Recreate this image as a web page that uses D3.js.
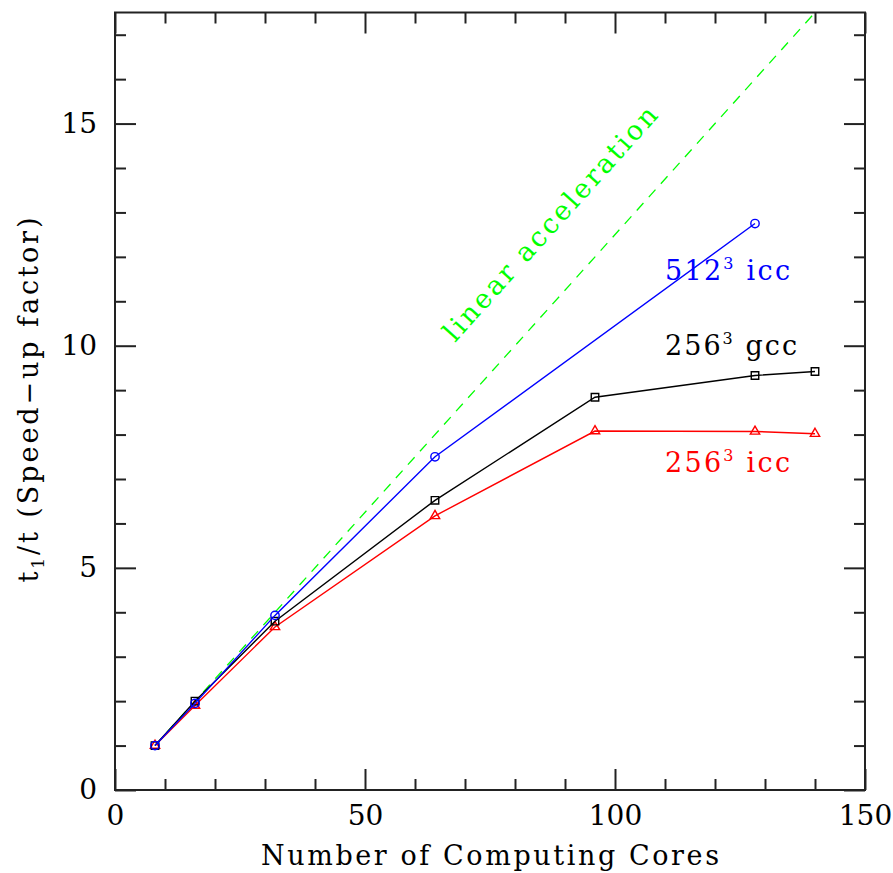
<!DOCTYPE html>
<html>
<head>
<meta charset="utf-8">
<script src="https://cdn.jsdelivr.net/npm/d3@7/dist/d3.min.js"></script>
<style>
  body { margin: 0; background: #fff; }
  text { font-family: "DejaVu Serif", "Liberation Serif", "Noto Serif", serif; }
</style>
</head>
<body>
<svg id="chart" width="893" height="873"></svg>
<script>
// --- data ---
const cores512 = [8, 16, 32, 64, 128];
const speed512icc = [1.0, 1.95, 3.93, 7.5, 12.75];
const cores256 = [8, 16, 32, 64, 96, 128, 140];
const speed256gcc = [1.0, 2.0, 3.8, 6.52, 8.84, 9.33, 9.42];
const speed256icc = [1.0, 1.9, 3.67, 6.17, 8.08, 8.07, 8.02];
const linearCores = [8, 140];
const linearSpeed = [1, 17.5];
const xMajor = [0, 50, 100, 150];
const yMajor = [0, 5, 10, 15];

const svg = d3.select('#chart');
const L = 115, R = 865, T = 12.5, B = 790;
const x = d3.scaleLinear().domain([0, 150]).range([L, R]);
const y = d3.scaleLinear().domain([0, 17.5]).range([B, T]);

const xMinor = d3.range(0, 151, 10).filter(v => !xMajor.includes(v));
const yMinor = d3.range(0, 17.6, 1).filter(v => !yMajor.includes(v));

// axes: ticks point inward on all four sides
function axis(gen, tx, ty, vals, size, labels, pad) {
  const a = gen.tickValues(vals).tickSize(-size).tickPadding(pad || 0);
  if (!labels) a.tickFormat('');
  const g = svg.append('g').attr('transform', `translate(${tx},${ty})`).call(a);
  g.attr('font-family', null);
  g.select('.domain').remove();
  g.selectAll('line').attr('stroke', '#222').attr('stroke-width', 2);
  g.selectAll('text').attr('font-size', 28).attr('fill', '#000');
  return g;
}
axis(d3.axisBottom(x), 0, B, xMajor, 21, true, 15);
axis(d3.axisBottom(x), 0, B, xMinor, 11, false);
axis(d3.axisTop(x), 0, T, xMajor, 21, false);
axis(d3.axisTop(x), 0, T, xMinor, 11, false);
axis(d3.axisLeft(y), L, 0, yMajor, 21, true, 18);
axis(d3.axisLeft(y), L, 0, yMinor, 11, false);
axis(d3.axisRight(y), R, 0, yMajor, 21, false);
axis(d3.axisRight(y), R, 0, yMinor, 11, false);

svg.append('rect').attr('x', L).attr('y', T).attr('width', R - L).attr('height', B - T)
  .attr('fill', 'none').attr('stroke', '#222').attr('stroke-width', 2);

// linear acceleration reference
const line = d3.line().x(d => x(d[0])).y(d => y(d[1]));
svg.append('path').datum(d3.zip(linearCores, linearSpeed)).attr('d', line)
  .attr('fill', 'none').attr('stroke', '#00ff00').attr('stroke-width', 1.3)
  .attr('stroke-dasharray', '10,8');

function series(xs, ys, color, marker) {
  const pts = d3.zip(xs, ys);
  svg.append('path').datum(pts).attr('d', line)
    .attr('fill', 'none').attr('stroke', color).attr('stroke-width', 1.4);
  const sym = d3.symbol().type(marker.type).size(marker.size);
  svg.append('g').selectAll('path').data(pts).enter().append('path')
    .attr('transform', d => `translate(${x(d[0])},${y(d[1])})`)
    .attr('d', sym).attr('fill', 'none').attr('stroke', color).attr('stroke-width', 1.4);
}
series(cores256, speed256icc, '#ff0000', { type: d3.symbolTriangle, size: 38 });
series(cores256, speed256gcc, '#000000', { type: d3.symbolSquare, size: 56 });
series(cores512, speed512icc, '#0000ff', { type: d3.symbolCircle, size: 55 });

// series labels
function label(txt, cx, cy, color, len) {
  const t = svg.append('text').attr('x', x(cx)).attr('y', y(cy)).attr('fill', color)
    .attr('font-size', 27).attr('textLength', len).attr('lengthAdjust', 'spacing');
  t.append('tspan').text(txt[0]);
  t.append('tspan').attr('font-size', 16).attr('dy', -11).text('3');
  t.append('tspan').attr('dy', 11).text(txt[1]);
}
label(['512', ' icc'], 110, 11.48, '#0000ff', 125);
label(['256', ' gcc'], 110, 9.79, '#000000', 132);
label(['256', ' icc'], 110, 7.16, '#ff0000', 125);

svg.append('text')
  .attr('transform', `translate(${x(68)},${y(10.06)}) rotate(-48)`)
  .attr('fill', '#00ff00').attr('font-size', 27)
  .attr('textLength', 305).attr('lengthAdjust', 'spacing')
  .text('linear acceleration');

// axis titles
svg.append('text').attr('x', x(75)).attr('y', 865).attr('text-anchor', 'middle')
  .attr('font-size', 27).attr('textLength', 458).attr('lengthAdjust', 'spacing')
  .text('Number of Computing Cores');

const yt = svg.append('text').attr('transform', 'translate(38,400) rotate(-90)')
  .attr('text-anchor', 'middle').attr('font-size', 27)
  .attr('textLength', 365).attr('lengthAdjust', 'spacing');
yt.append('tspan').text('t');
yt.append('tspan').attr('font-size', 17).attr('dy', 6).text('1');
yt.append('tspan').attr('dy', -6).text('/t (Speed\u2212up factor)');
</script>
</body>
</html>
